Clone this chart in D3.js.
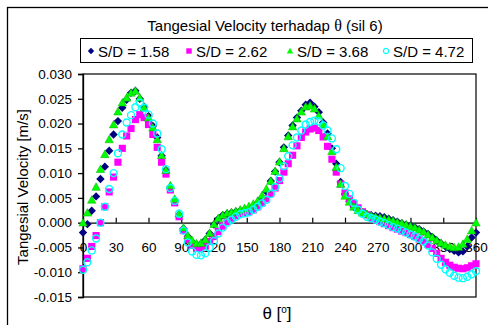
<!DOCTYPE html>
<html>
<head>
<meta charset="utf-8">
<script src="https://cdn.jsdelivr.net/npm/d3@7"></script>
<style>
  body { margin: 0; background: #fff; }
  svg text { font-family: "Liberation Sans", Arial, sans-serif; fill: #000; }
</style>
</head>
<body>
<svg id="chart" width="488" height="325"></svg>
<script>
"use strict";

// angle of the measuring point on the cylinder, degrees
const theta = [
  0, 4, 8, 12, 16, 20, 24, 28, 32, 36,
  40, 44, 48, 52, 56, 60, 64, 68, 72, 76,
  80, 84, 88, 92, 96, 100, 104, 108, 112, 116,
  120, 124, 128, 132, 136, 140, 144, 148, 152, 156,
  160, 164, 168, 172, 176, 180, 184, 188, 192, 196,
  200, 204, 208, 212, 216, 220, 224, 228, 232, 236,
  240, 244, 248, 252, 256, 260, 264, 268, 272, 276,
  280, 284, 288, 292, 296, 300, 304, 308, 312, 316,
  320, 324, 328, 332, 336, 340, 344, 348, 352, 356,
  360,
];

// tangential velocity [m/s]
const vel158 = [
  -0.0020, -0.0003, 0.0024, 0.0053, 0.0088, 0.0113, 0.0145, 0.0178, 0.0205, 0.0232,
  0.0248, 0.0262, 0.0266, 0.0250, 0.0234, 0.0215, 0.0195, 0.0172, 0.0135, 0.0106,
  0.0072, 0.0045, 0.0015, -0.0012, -0.0028, -0.0039, -0.0044, -0.0043, -0.0035, -0.0022,
  -0.0004, 0.0008, 0.0015, 0.0018, 0.0020, 0.0022, 0.0024, 0.0026, 0.0028, 0.0032,
  0.0039, 0.0050, 0.0063, 0.0084, 0.0103, 0.0122, 0.0152, 0.0176, 0.0196, 0.0212,
  0.0226, 0.0238, 0.0242, 0.0234, 0.0223, 0.0202, 0.0180, 0.0150, 0.0119, 0.0082,
  0.0058, 0.0043, 0.0032, 0.0025, 0.0020, 0.0017, 0.0015, 0.0014, 0.0013, 0.0011,
  0.0008, 0.0005, 0.0002, -0.0001, -0.0004, -0.0006, -0.0009, -0.0013, -0.0018, -0.0023,
  -0.0029, -0.0036, -0.0042, -0.0048, -0.0053, -0.0057, -0.0060, -0.0058, -0.0048, -0.0030,
  -0.0020,
];

const vel262 = [
  -0.0093, -0.0072, -0.0048, -0.0026, 0.0000, 0.0032, 0.0062, 0.0092, 0.0122, 0.0150,
  0.0175, 0.0190, 0.0208, 0.0218, 0.0212, 0.0198, 0.0178, 0.0152, 0.0122, 0.0098,
  0.0066, 0.0040, 0.0012, -0.0016, -0.0034, -0.0046, -0.0052, -0.0052, -0.0047, -0.0038,
  -0.0028, -0.0018, -0.0007, 0.0002, 0.0009, 0.0014, 0.0018, 0.0020, 0.0022, 0.0026,
  0.0032, 0.0040, 0.0048, 0.0059, 0.0070, 0.0085, 0.0102, 0.0119, 0.0136, 0.0155,
  0.0172, 0.0183, 0.0189, 0.0191, 0.0186, 0.0173, 0.0154, 0.0128, 0.0102, 0.0078,
  0.0060, 0.0048, 0.0039, 0.0030, 0.0022, 0.0016, 0.0010, 0.0006, 0.0002, -0.0002,
  -0.0006, -0.0010, -0.0013, -0.0017, -0.0020, -0.0024, -0.0028, -0.0033, -0.0038, -0.0044,
  -0.0052, -0.0062, -0.0072, -0.0080, -0.0086, -0.0090, -0.0092, -0.0093, -0.0091, -0.0087,
  -0.0083,
];

const vel368 = [
  0.0000, 0.0020, 0.0046, 0.0072, 0.0108, 0.0138, 0.0168, 0.0198, 0.0224, 0.0242,
  0.0252, 0.0262, 0.0266, 0.0252, 0.0232, 0.0212, 0.0192, 0.0168, 0.0136, 0.0106,
  0.0075, 0.0048, 0.0018, -0.0010, -0.0026, -0.0036, -0.0042, -0.0041, -0.0034, -0.0021,
  -0.0003, 0.0009, 0.0015, 0.0019, 0.0021, 0.0023, 0.0026, 0.0029, 0.0033, 0.0038,
  0.0044, 0.0055, 0.0068, 0.0084, 0.0104, 0.0123, 0.0150, 0.0174, 0.0194, 0.0210,
  0.0224, 0.0234, 0.0236, 0.0230, 0.0216, 0.0198, 0.0174, 0.0144, 0.0112, 0.0078,
  0.0054, 0.0042, 0.0032, 0.0025, 0.0020, 0.0017, 0.0014, 0.0012, 0.0010, 0.0008,
  0.0006, 0.0004, 0.0001, -0.0001, -0.0004, -0.0007, -0.0010, -0.0014, -0.0018, -0.0024,
  -0.0030, -0.0036, -0.0041, -0.0045, -0.0048, -0.0050, -0.0049, -0.0043, -0.0033, -0.0016,
  0.0000,
];

const vel472 = [
  -0.0095, -0.0080, -0.0056, -0.0032, 0.0000, 0.0032, 0.0068, 0.0100, 0.0140, 0.0178,
  0.0202, 0.0217, 0.0233, 0.0242, 0.0232, 0.0218, 0.0200, 0.0180, 0.0148, 0.0108,
  0.0070, 0.0044, 0.0018, -0.0016, -0.0040, -0.0058, -0.0065, -0.0066, -0.0062, -0.0050,
  -0.0037, -0.0022, -0.0010, 0.0000, 0.0006, 0.0012, 0.0017, 0.0019, 0.0021, 0.0026,
  0.0032, 0.0039, 0.0046, 0.0058, 0.0072, 0.0089, 0.0114, 0.0134, 0.0156, 0.0172,
  0.0186, 0.0198, 0.0203, 0.0206, 0.0204, 0.0196, 0.0186, 0.0170, 0.0148, 0.0110,
  0.0074, 0.0058, 0.0040, 0.0026, 0.0018, 0.0012, 0.0009, 0.0006, 0.0002, -0.0001,
  -0.0005, -0.0009, -0.0012, -0.0016, -0.0020, -0.0024, -0.0028, -0.0033, -0.0038, -0.0046,
  -0.0060, -0.0073, -0.0085, -0.0094, -0.0101, -0.0107, -0.0111, -0.0112, -0.0109, -0.0104,
  -0.0098,
];

const seriesNames = ["S/D = 1.58", "S/D = 2.62", "S/D = 3.68", "S/D = 4.72"];
const xTicks = [0, 30, 60, 90, 120, 150, 180, 210, 240, 270, 300, 330, 360];
const yTicks = [-0.015, -0.01, -0.005, 0, 0.005, 0.01, 0.015, 0.02, 0.025, 0.03];

// marker looks, same order as seriesNames
const styles = [
  { shape: "diamond", fill: "#000080", stroke: "none" },
  { shape: "square", fill: "#ff00ff", stroke: "none" },
  { shape: "triangle", fill: "#00ff00", stroke: "#00b000" },
  { shape: "circle", fill: "none", stroke: "#00ffff" },
];

const markerPath = (shape, s) => {
  if (shape === "diamond") return `M0,${-s}L${s},0L0,${s}L${-s},0Z`;
  if (shape === "square") return `M${-s * 0.85},${-s * 0.85}H${s * 0.85}V${s * 0.85}H${-s * 0.85}Z`;
  if (shape === "triangle") return `M0,${-s}L${s},${s * 0.8}L${-s},${s * 0.8}Z`;
  return null;
};

const series = [vel158, vel262, vel368, vel472].map((vals, i) => ({
  name: seriesNames[i],
  style: styles[i],
  points: theta.map((t, j) => ({ t, v: vals[j] })),
}));

const svg = d3.select("#chart");
const plot = { left: 83, top: 74, right: 476, bottom: 297 };

const x = d3.scaleLinear().domain([0, 360]).range([plot.left, plot.right]);
const y = d3.scaleLinear().domain([-0.015, 0.03]).range([plot.bottom, plot.top]);

// outer chart frame
svg
  .append("rect")
  .attr("x", 7.5)
  .attr("y", 7.5)
  .attr("width", 495)
  .attr("height", 340)
  .attr("fill", "#fff")
  .attr("stroke", "#000")
  .attr("stroke-width", 1.3);

// title
const title = svg
  .append("text")
  .attr("x", 265)
  .attr("y", 31)
  .attr("text-anchor", "middle")
  .attr("font-size", 15);
title.append("tspan").text("Tangesial Velocity terhadap ");
title
  .append("tspan")
  .attr("font-family", "'Liberation Serif', serif")
  .attr("font-size", 16)
  .text("θ");
title.append("tspan").text(" (sil 6)");

// legend
const legend = svg.append("g");
legend
  .append("rect")
  .attr("x", 80.5)
  .attr("y", 38.5)
  .attr("width", 392)
  .attr("height", 24)
  .attr("fill", "#fff")
  .attr("stroke", "#000");

const legendX = [91, 189, 290, 386];
series.forEach((s, i) => {
  const g = legend.append("g").attr("transform", `translate(${legendX[i]},51)`);
  if (s.style.shape === "circle") {
    g.append("circle")
      .attr("r", 2.6)
      .attr("fill", "none")
      .attr("stroke", s.style.stroke)
      .attr("stroke-width", 1.2);
  } else {
    g.append("path")
      .attr("d", markerPath(s.style.shape, 3.2))
      .attr("fill", s.style.fill);
  }
  g.append("text")
    .attr("x", 7)
    .attr("y", 6)
    .attr("font-size", 15)
    .text(s.name);
});

// plot area frame
svg
  .append("rect")
  .attr("x", plot.left)
  .attr("y", plot.top)
  .attr("width", plot.right - plot.left)
  .attr("height", plot.bottom - plot.top)
  .attr("fill", "#fff")
  .attr("stroke", "#000")
  .attr("stroke-width", 1.2);

const fmt = (d) => d3.format(".3f")(d).replace("\u2212", "-");

const yAxis = svg
  .append("g")
  .attr("transform", `translate(${plot.left},0)`)
  .call(d3.axisLeft(y).tickValues(yTicks).tickFormat(fmt).tickSize(5).tickPadding(6));
yAxis.attr("font-size", 13.5).attr("font-family", null);
yAxis.selectAll("path, line").attr("stroke", "#000").attr("stroke-width", 1.3);

const xAxis = svg
  .append("g")
  .attr("transform", `translate(0,${y(0)})`)
  .call(
    d3
      .axisBottom(x)
      .tickValues(xTicks)
      .tickSizeInner(-5)
      .tickSizeOuter(0)
      .tickPadding(20)
  );
xAxis.attr("font-size", 13.5).attr("font-family", null);
xAxis.selectAll("path, line").attr("stroke", "#000").attr("stroke-width", 1.2);

// axis titles
svg
  .append("text")
  .attr("transform", "translate(27.5,187) rotate(-90)")
  .attr("text-anchor", "middle")
  .attr("font-size", 15)
  .text("Tangesial Velocity [m/s]");

const xTitle = svg
  .append("text")
  .attr("x", 277)
  .attr("y", 319)
  .attr("text-anchor", "middle")
  .attr("font-family", "'Liberation Serif', serif")
  .attr("font-size", 17);
xTitle.append("tspan").text("θ [");
xTitle.append("tspan").attr("font-size", 10).attr("dy", -6).text("o");
xTitle.append("tspan").attr("dy", 6).text("]");

// markers
const marks = svg.append("g");
series.forEach((s) => {
  const g = marks.append("g");
  if (s.style.shape === "circle") {
    g.selectAll("circle")
      .data(s.points)
      .enter()
      .append("circle")
      .attr("cx", (d) => x(d.t))
      .attr("cy", (d) => y(d.v))
      .attr("r", 3.5)
      .attr("fill", "none")
      .attr("stroke", s.style.stroke)
      .attr("stroke-width", 1.4);
  } else {
    g.selectAll("path")
      .data(s.points)
      .enter()
      .append("path")
      .attr("transform", (d) => `translate(${x(d.t)},${y(d.v)})`)
      .attr("d", markerPath(s.style.shape, 4.2))
      .attr("fill", s.style.fill)
      .attr("stroke", s.style.stroke)
      .attr("stroke-width", 0.5);
  }
});
</script>
</body>
</html>
